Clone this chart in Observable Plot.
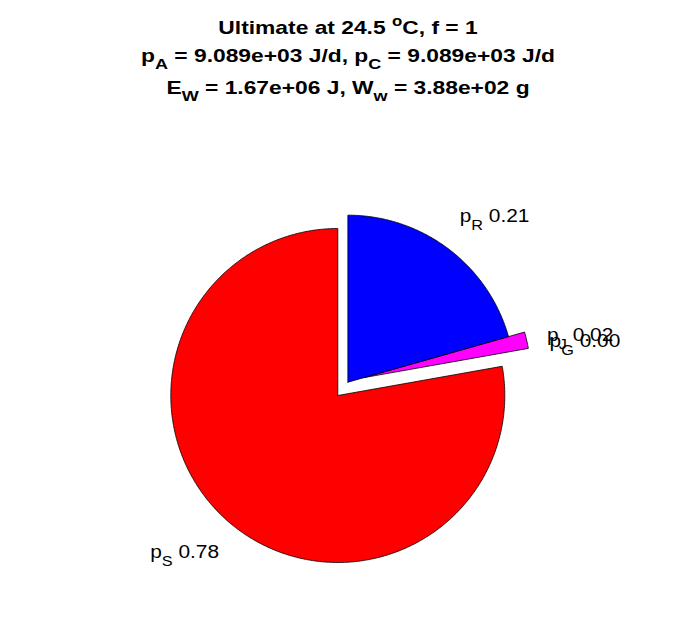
<!DOCTYPE html>
<html><head><meta charset="utf-8">
<script src="https://cdn.jsdelivr.net/npm/d3@7"></script>
<script src="https://cdn.jsdelivr.net/npm/@observablehq/plot@0.6"></script>
<style>
body{margin:0;background:#fff;}
#wrap{position:relative;width:696px;height:618px;overflow:hidden;}
#chart{position:absolute;left:0;top:0;}
.t{position:absolute;left:0;width:696px;text-align:center;font-family:"Liberation Sans",Arial,sans-serif;font-weight:bold;font-size:19px;line-height:28px;height:28px;white-space:nowrap;color:#000;transform:scaleX(1.2);transform-origin:348px 50%;}
.sub{position:relative;top:7px;font-size:15px;}
.sup{position:relative;top:-8px;font-size:14px;}
</style></head><body>
<div id="wrap"><div id="chart"></div>
<div class="t" id="t1" style="top:14px"></div>
<div class="t" id="t2" style="top:42px"></div>
<div class="t" id="t3" style="top:74px"></div>
</div>
<script>
// ---- data ----
const sliceKeys = ["S", "J", "G", "R"];
const sliceValues = [0.778, 0.016, 0.000, 0.206];
const sliceColors = ["#ff0000", "#ff00ff", "#00ff00", "#0000ff"];
const sliceExploded = [false, true, false, true];
const tempC = 24.5, fValue = 1;
const pA = 9.089e3, pC = 9.089e3, EW = 1.67e6, Ww = 3.88e2;

// ---- title ----
function expo(v, d) {
  return v.toExponential(d).replace(/e([+-])(\d+)$/, (m, s, e) => "e" + s + e.padStart(2, "0"));
}
document.getElementById("t1").innerHTML = `Ultimate at ${tempC} <span class="sup">o</span>C, f = ${fValue}`;
document.getElementById("t2").innerHTML = `p<span class="sub">A</span> = ${expo(pA,3)} J/d, p<span class="sub">C</span> = ${expo(pC,3)} J/d`;
document.getElementById("t3").innerHTML = `E<span class="sub">W</span> = ${expo(EW,2)} J, W<span class="sub">w</span> = ${expo(Ww,2)} g`;

// ---- geometry ----
const rad = Math.PI / 180;
let acc = 90;
const slices = sliceValues.map((v, i) => {
  const a0 = acc, a1 = acc + v * 360; acc = a1;
  return {key: sliceKeys[i], value: v, a0, a1, mid: (a0 + a1) / 2, color: sliceColors[i], exploded: sliceExploded[i], off: [0, 0]};
});
// explode: shift 0.1 radius along bisector; the thin exploded wedge next to the
// exploded blue one is pushed further along their shared edge (as in the reference)
for (let i = slices.length - 1; i >= 0; i--) {
  const s = slices[i];
  if (!s.exploded) continue;
  let next = null;
  for (let j = i + 1; j < slices.length; j++) if (slices[j].exploded && slices[j].value > 0) { next = slices[j]; break; }
  if (next) s.off = [next.off[0] + 0.1 * Math.cos(s.a1 * rad), next.off[1] + 0.1 * Math.sin(s.a1 * rad)];
  else s.off = [0.1 * Math.cos(s.mid * rad), 0.1 * Math.sin(s.mid * rad)];
}
function wedge(s) {
  const pts = [{x: s.off[0], y: s.off[1]}];
  const n = Math.max(2, Math.ceil((s.a1 - s.a0) * 2));
  for (let k = 0; k <= n; k++) {
    const a = (s.a0 + (s.a1 - s.a0) * k / n) * rad;
    pts.push({x: s.off[0] + Math.cos(a), y: s.off[1] + Math.sin(a)});
  }
  pts.push({x: s.off[0], y: s.off[1]});
  return pts;
}
const labelR = 1.2;
const labelNudge = {S: [10, 3], J: [14, -15], G: [19, 0], R: [1, -19]};

const W = 696, H = 618, Rpx = 167, cxp = 337.3, cyp = 395;
const marks = [];
for (const s of slices) {
  if (s.value <= 0) continue;
  marks.push(Plot.line(wedge(s), {x: "x", y: "y", fill: s.color, stroke: "#000", strokeWidth: 0.8, curve: "linear"}));
}
for (const s of slices) {
  const lx = labelR * Math.cos(s.mid * rad), ly = labelR * Math.sin(s.mid * rad);
  const [dx, dy] = labelNudge[s.key];
  marks.push(Plot.text([{x: lx, y: ly, t: `p${s.key} ${s.value.toFixed(2)}`}], {
    x: "x", y: "y", text: "t", dx, dy, fontSize: 18, fill: "#000",
    textAnchor: Math.cos(s.mid * rad) < 0 ? "end" : "start",
    fontFamily: "Liberation Sans, Arial, sans-serif"
  }));
}
const chart = Plot.plot({
  width: W, height: H, margin: 0,
  x: {domain: [-cxp / Rpx, (W - cxp) / Rpx], axis: null},
  y: {domain: [-(H - cyp) / Rpx, cyp / Rpx], axis: null},
  style: {background: "#fff"},
  marks
});
// subscripts in the slice labels, slightly widened like the reference typeface
d3.select(chart).selectAll("text").each(function () {
  const m = /^p([A-Z]) (.*)$/.exec(this.textContent);
  if (!m) return;
  const el = d3.select(this);
  el.text(null);
  el.append("tspan").text("p");
  el.append("tspan").attr("dy", 8).attr("font-size", 14).text(m[1]);
  el.append("tspan").attr("dy", -8).text("\u00a0" + m[2]);
  const tr = el.attr("transform");
  if (tr) el.attr("transform", tr + " scale(1.16,1)");
  else {
    const x = +el.attr("x") || 0, y = +el.attr("y") || 0;
    el.attr("x", null).attr("y", null).attr("transform", `translate(${x},${y}) scale(1.16,1)`);
  }
});
document.getElementById("chart").appendChild(chart);
</script>
</body></html>
